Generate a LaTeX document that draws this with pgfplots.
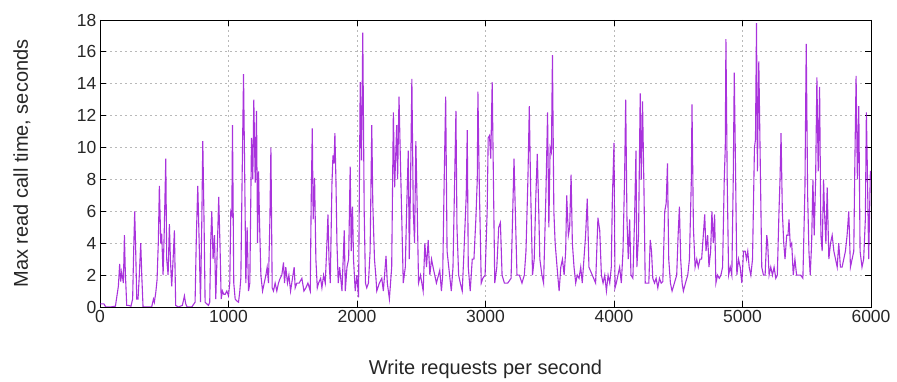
\documentclass[border=0pt]{standalone}
\usepackage{pgfplots}
\pgfplotsset{compat=1.18}
\usepackage{fontspec}
\setmainfont{Liberation Sans}
\definecolor{gpviolet}{RGB}{148,0,211}
\begin{document}
\begin{tikzpicture}
\begin{axis}[name=ax, scale only axis, width=771pt, height=287pt,
 xmin=0, xmax=6000, ymin=0, ymax=18,
 xtick={0,1000,...,6000}, ytick={0,2,...,18},
 tick align=inside, tick pos=both, major tick length=6pt,
 grid=major, major grid style={gray!55, dash pattern=on 2pt off 3pt, line width=0.8pt},
 axis line style={black, line width=0.9pt},
 tick style={black, line width=0.9pt},
 ticklabel style={font=\fontsize{17.5}{20}\selectfont, text=black!85},
 /pgf/number format/assume math mode=true,
 scaled x ticks=false, xticklabel style={/pgf/number format/1000 sep={}},
 xlabel={Write requests per second}, ylabel={Max read call time, seconds},
 label style={font=\fontsize{20}{24}\selectfont, text=black!85},
 xlabel style={at={(axis description cs:0.5,-0.2335)}, anchor=base},
 ylabel style={at={(axis description cs:-0.0934,0.5)}, anchor=base},
]
\addplot[gpviolet, line width=1.1pt, mark=none, opacity=0.8] coordinates {
(0,0.2)(30,0.2)(45,0)(80,0)(120,0.05)
(143,1.3)(153,2.7)(161,1.6)(169,2.2)(182,1.5)(190,4.5)(197,2.2)(208,0.1)(221,0.1)(241,0.05)
(254,0.5)(262,3.5)(270,6.0)(278,3.5)(286,0.5)(296,0.5)(306,2.0)(317,4.0)(325,2.0)(335,0)
(364,0)(402,0)(416,0.5)(423,0.3)(434,0.9)(444,1.7)(454,4.1)(462,7.6)(473,4.0)(480,4.6)
(491,2.0)(499,4.4)(512,9.3)(519,3.0)(530,2.0)(540,5.2)(548,3.0)(558,1.3)(569,3.0)(579,4.8)
(589,0.1)(610,0)(641,0.1)(657,0.7)(667,0.2)(678,0)(714,0)(740,0.3)(750,4.5)(761,7.6)
(771,4.3)(782,0.3)(792,5.2)(800,10.4)(810,5.2)(818,0.3)(831,0.2)(844,0.1)(854,0.3)(862,4.2)
(870,6.0)(880,3.0)(891,4.5)(901,0.5)(914,4.0)(924,6.9)(935,3.5)(943,0.5)(953,1.0)(963,0.8)
(974,0.8)(987,1.0)(1000,0.7)(1010,1.5)(1018,6.0)(1026,5.8)(1031,11.4)(1041,1.5)(1052,0.5)
(1062,0.4)(1078,0.3)(1088,1.0)(1096,1.8)(1106,8.1)(1117,14.6)(1127,7.7)(1135,1.5)(1145,5.0)
(1156,1.0)(1166,1.5)(1179,10.6)(1189,8.0)(1197,13.0)(1208,7.8)(1218,12.3)(1226,4.0)(1234,8.5)
(1241,5.5)(1252,2.0)(1265,1.0)(1278,1.5)(1291,2.0)(1301,2.5)(1311,1.5)(1322,5.4)(1330,10.0)
(1340,1.2)(1350,1.0)(1363,1.5)(1376,1.0)(1389,1.5)(1402,1.8)(1415,2.0)(1428,2.8)(1436,1.5)
(1446,2.5)(1459,1.5)(1470,2.0)(1483,1.0)(1498,1.8)(1511,2.5)(1519,1.2)(1532,1.5)(1550,1.5)
(1571,1.8)(1587,1.0)(1602,1.2)(1618,1.5)(1636,1.0)(1644,6.9)(1652,11.2)(1659,5.5)(1670,8.1)
(1680,3.0)(1691,1.2)(1701,1.5)(1717,1.8)(1727,1.2)(1740,2.0)(1753,1.5)(1766,4.0)(1774,5.8)
(1782,3.0)(1792,1.5)(1805,7.7)(1813,9.5)(1821,9.0)(1828,10.9)(1836,8.0)(1844,4.0)(1854,1.5)
(1865,2.5)(1883,1.0)(1901,4.8)(1909,1.0)(1922,2.5)(1935,3.0)(1947,8.8)(1955,3.5)(1965,6.3)
(1973,3.0)(1986,1.0)(1999,2.0)(2012,0.6)(2025,14.1)(2035,9.2)(2045,17.2)(2056,6.0)(2066,1.5)
(2076,1.2)(2089,1.5)(2102,3.5)(2115,11.4)(2123,6.5)(2136,3.0)(2146,2.0)(2154,1.0)(2174,1.5)
(2193,1.8)(2205,1.0)(2226,3.2)(2236,1.5)(2252,0.5)(2270,2.5)(2283,12.2)(2293,7.5)(2309,11.4)
(2316,8.0)(2327,13.2)(2337,9.5)(2350,5.0)(2360,1.5)(2376,2.5)(2386,6.0)(2399,9.8)(2407,3.0)
(2417,8.0)(2427,14.3)(2438,6.0)(2448,4.0)(2458,10.4)(2469,6.0)(2479,1.5)(2494,2.0)(2515,1.0)
(2528,4.0)(2541,2.5)(2554,4.2)(2567,2.0)(2580,3.0)(2592,2.5)(2618,1.5)(2644,2.3)(2657,1.0)
(2667,2.0)(2678,7.7)(2690,13.2)(2701,3.5)(2714,2.5)(2734,1.0)(2747,2.5)(2760,8.0)(2770,12.3)
(2778,5.0)(2791,2.0)(2804,1.5)(2819,1.0)(2830,3.0)(2843,5.6)(2850,7.0)(2858,11.1)(2866,2.5)
(2881,1.0)(2897,3.0)(2910,3.0)(2925,5.5)(2936,8.0)(2941,13.5)(2951,8.0)(2967,1.5)(2979,1.8)
(2997,2.0)(3013,6.0)(3021,10.6)(3031,10.75)(3041,9.3)(3052,14.1)(3062,7.8)(3072,1.5)(3088,2.5)
(3103,5.0)(3116,5.3)(3129,2.0)(3147,1.5)(3173,1.5)(3199,1.8)(3212,6.0)(3222,9.3)(3232,6.0)
(3245,2.0)(3263,2.0)(3284,1.5)(3302,2.0)(3315,3.5)(3330,8.0)(3341,12.6)(3351,7.5)(3366,2.0)
(3379,3.0)(3392,7.0)(3403,9.6)(3413,6.5)(3423,3.0)(3439,2.0)(3452,1.5)(3470,7.0)(3483,12.2)
(3493,5.0)(3503,10.0)(3513,9.7)(3521,15.8)(3532,6.0)(3542,4.0)(3552,3.0)(3562,2.0)(3573,1.0)
(3586,2.5)(3599,3.0)(3612,2.0)(3624,3.5)(3632,7.0)(3645,4.5)(3655,5.0)(3666,8.3)(3676,4.0)
(3689,2.5)(3702,1.5)(3714,2.0)(3728,1.8)(3741,2.5)(3753,1.5)(3779,4.5)(3792,6.8)(3805,2.5)
(3831,2.0)(3857,1.5)(3875,5.6)(3889,4.8)(3902,2.0)(3915,1.5)(3928,2.0)(3941,1.0)(3954,2.0)
(3967,1.5)(3979,2.5)(3987,6.7)(4000,10.3)(4008,1.2)(4018,1.5)(4031,2.0)(4044,2.5)(4057,1.5)
(4070,3.5)(4083,8.4)(4091,13.0)(4101,5.5)(4111,3.0)(4122,5.5)(4132,2.0)(4147,1.8)(4160,5.5)
(4171,9.8)(4178,2.5)(4191,4.5)(4204,13.4)(4212,8.0)(4222,12.9)(4233,7.5)(4243,1.5)(4256,1.5)
(4271,1.5)(4282,4.2)(4292,3.5)(4302,1.8)(4315,1.5)(4328,1.8)(4341,1.2)(4354,1.8)(4367,1.5)
(4380,1.6)(4395,6.0)(4406,6.5)(4416,9.0)(4426,3.0)(4439,1.5)(4452,1.0)(4470,1.5)(4488,2.0)
(4499,4.5)(4509,6.3)(4519,3.0)(4530,1.5)(4540,1.0)(4556,1.5)(4574,2.0)(4587,3.0)(4602,8.0)
(4607,12.7)(4618,5.0)(4631,2.5)(4644,3.0)(4656,2.5)(4669,3.0)(4682,3.0)(4695,4.5)(4706,5.8)
(4716,3.5)(4729,4.5)(4739,2.5)(4752,3.5)(4762,6.0)(4773,4.0)(4783,5.8)(4793,1.5)(4806,2.0)
(4819,1.8)(4832,2.0)(4845,2.5)(4858,8.0)(4866,10.0)(4871,16.8)(4881,8.0)(4892,2.0)(4905,2.5)
(4917,2.0)(4928,8.0)(4936,14.7)(4946,8.5)(4956,2.0)(4969,3.0)(4982,2.5)(4995,1.5)(5008,3.5)
(5021,3.5)(5031,3.0)(5041,3.5)(5052,2.5)(5065,2.0)(5078,3.0)(5093,10.0)(5101,10.5)(5109,17.8)
(5116,8.5)(5127,15.4)(5140,8.0)(5150,2.5)(5163,2.0)(5176,2.0)(5189,4.5)(5196,4.0)(5207,2.0)
(5220,2.5)(5233,2.0)(5246,2.5)(5259,1.8)(5271,2.0)(5284,6.0)(5292,8.0)(5300,10.9)(5310,6.0)
(5321,4.0)(5331,3.0)(5344,4.5)(5354,4.5)(5362,5.5)(5372,3.8)(5383,4.0)(5395,2.0)(5408,3.0)
(5421,2.0)(5434,2.0)(5452,2.0)(5470,1.8)(5486,7.5)(5496,16.5)(5507,7.0)(5517,3.5)(5527,2.0)
(5538,4.0)(5548,8.0)(5558,4.5)(5569,8.0)(5579,14.4)(5589,8.5)(5600,13.8)(5610,4.5)(5620,3.5)
(5631,8.0)(5638,6.0)(5649,4.0)(5659,7.5)(5672,3.0)(5685,4.0)(5698,4.5)(5711,3.5)(5724,3.0)
(5737,2.5)(5749,4.0)(5762,2.5)(5775,2.5)(5788,3.0)(5801,3.5)(5814,4.5)(5827,6.0)(5840,2.5)
(5853,3.0)(5866,3.5)(5874,8.8)(5884,14.5)(5894,8.0)(5905,12.6)(5915,3.5)(5930,2.5)(5943,3.0)
(5956,5.5)(5964,12.2)(5972,8.5)(5982,3.0)(5995,8.5)(6000,8.5)
};
\end{axis}
\path (ax.south west) ++(-100pt,-71pt) rectangle ++(897pt,378pt);
\end{tikzpicture}
\end{document}
